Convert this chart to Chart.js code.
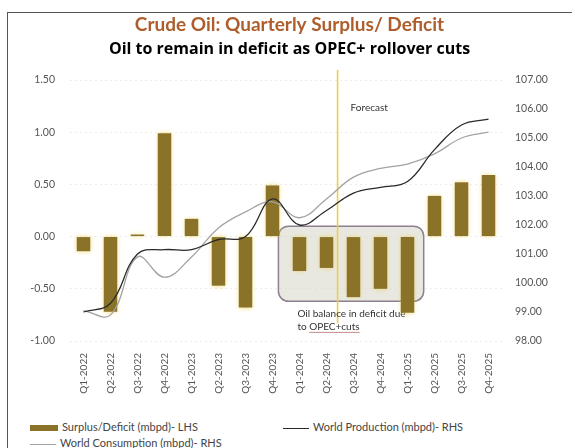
<!DOCTYPE html>
<html lang="en">
<head>
  <meta charset="UTF-8" />
  <title>Crude Oil: Quarterly Surplus/ Deficit</title>
  <style>
    body { margin: 0; background: #fff; font-family: Lato, 'Open Sans', sans-serif; }
    .frame {
      position: absolute; left: 7px; top: 12px;
      width: 570px; height: 450px;
      border: 1px solid #555; box-sizing: border-box;
    }
    .wrap { position: absolute; left: 0; top: 0; width: 563px; height: 395px; }
    .legend { position: absolute; font-size: 11px; color: #444; white-space: nowrap; line-height: 14px; }
    .legend i { display: inline-block; vertical-align: middle; margin-right: 4px; }
  </style>
</head>
<body>
  <div class="frame">
    <div class="wrap"><canvas id="oilChart"></canvas></div>
    <div id="legend"></div>
  </div>

  <script src="https://cdn.jsdelivr.net/npm/chart.js"></script>
  <script>
    // Quarterly data
    const quarters = ['Q1-2022', 'Q2-2022', 'Q3-2022', 'Q4-2022', 'Q1-2023', 'Q2-2023', 'Q3-2023', 'Q4-2023',
                      'Q1-2024', 'Q2-2024', 'Q3-2024', 'Q4-2024', 'Q1-2025', 'Q2-2025', 'Q3-2025', 'Q4-2025'];
    const surplus = [-0.14, -0.72, 0.02, 0.99, 0.17, -0.47, -0.68, 0.49, -0.33, -0.30, -0.58, -0.50, -0.73, 0.39, 0.52, 0.59];
    const production = [99.0, 99.3, 101.0, 101.15, 101.15, 101.5, 101.6, 102.9, 102.0, 102.5, 103.1, 103.3, 103.5, 104.6, 105.45, 105.65];
    const consumption = [99.05, 98.9, 100.9, 100.2, 100.9, 101.9, 102.45, 102.8, 102.25, 102.9, 103.65, 103.95, 104.1, 104.45, 105.0, 105.2];

    const forecastAfter = 'Q2-2024';
    const deficitFrom = 'Q1-2024', deficitTo = 'Q1-2025';

    Chart.defaults.font.family = "Lato, 'Open Sans', sans-serif";

    // soft yellow halo round the bars, like the original
    const barGlow = {
      id: 'barGlow',
      beforeDatasetDraw(chart, args) {
        if (args.index !== 0) return;
        const c = chart.ctx;
        c.save();
        c.shadowColor = 'rgba(240, 205, 70, 0.75)';
        c.shadowBlur = 5;
      },
      afterDatasetDraw(chart, args) {
        if (args.index === 0) chart.ctx.restore();
      }
    };

    // deficit box, forecast line and the notes
    const notes = {
      id: 'notes',
      beforeDatasetsDraw(chart) {
        const { ctx, scales: { x, y } } = chart;
        const step = x.getPixelForValue(1) - x.getPixelForValue(0);
        const left = x.getPixelForValue(quarters.indexOf(deficitFrom)) - 0.78 * step;
        const right = x.getPixelForValue(quarters.indexOf(deficitTo)) + 0.6 * step;
        const top = y.getPixelForValue(0.1), bottom = y.getPixelForValue(-0.62);
        ctx.save();
        ctx.beginPath();
        ctx.roundRect(left, top, right - left, bottom - top, 10);
        ctx.fillStyle = 'rgba(214, 214, 200, 0.55)';
        ctx.fill();
        ctx.lineWidth = 1.5;
        ctx.strokeStyle = '#8e8090';
        ctx.stroke();

        const fx = x.getPixelForValue(quarters.indexOf(forecastAfter)) + 0.41 * step;
        ctx.beginPath();
        ctx.moveTo(fx, chart.chartArea.top - 10);
        ctx.lineTo(fx, y.getPixelForValue(-0.83));
        ctx.lineWidth = 1.6;
        ctx.strokeStyle = '#efcd4c';
        ctx.stroke();

        ctx.fillStyle = '#333';
        ctx.font = "10px Lato, 'Open Sans', sans-serif";
        ctx.textBaseline = 'middle';
        ctx.fillText('Forecast', fx + 13, y.getPixelForValue(1.23));

        const tx = left + 19;
        ctx.fillText('Oil balance in deficit due', tx, y.getPixelForValue(-0.74));
        const ly = y.getPixelForValue(-0.86);
        ctx.fillText('to OPEC+cuts', tx, ly);
        const w0 = ctx.measureText('to ').width, w1 = ctx.measureText('OPEC+cuts').width;
        ctx.beginPath();
        ctx.moveTo(tx + w0, ly + 6);
        ctx.lineTo(tx + w0 + w1, ly + 6);
        ctx.lineWidth = 1;
        ctx.strokeStyle = '#c98a8a';
        ctx.stroke();
        ctx.restore();
      }
    };

    const ctx = document.getElementById('oilChart').getContext('2d');
    const chart = new Chart(ctx, {
      data: {
        labels: quarters,
        datasets: [
          {
            type: 'bar',
            label: 'Surplus/Deficit (mbpd)- LHS',
            data: surplus,
            yAxisID: 'y',
            backgroundColor: '#8a7328',
            barPercentage: 0.5,
            categoryPercentage: 1,
            order: 1
          },
          {
            type: 'line',
            label: 'World Production (mbpd)- RHS',
            data: production,
            yAxisID: 'y1',
            borderColor: '#2a2a2a',
            borderWidth: 1.3,
            pointRadius: 0,
            tension: 0.4,
            order: 0
          },
          {
            type: 'line',
            label: 'World Consumption (mbpd)- RHS',
            data: consumption,
            yAxisID: 'y1',
            borderColor: '#a3a3a3',
            borderWidth: 1.3,
            pointRadius: 0,
            tension: 0.4,
            order: 0
          }
        ]
      },
      options: {
        responsive: true,
        maintainAspectRatio: false,
        animation: false,
        layout: { padding: 0 },
        plugins: {
          legend: { display: false },
          tooltip: { enabled: false },
          title: {
            display: true,
            text: 'Crude Oil: Quarterly Surplus/ Deficit',
            color: '#ad5e2c',
            font: { size: 19, weight: 'bold' },
            padding: { top: 0, bottom: 3 }
          },
          subtitle: {
            display: true,
            text: 'Oil to remain in deficit as OPEC+ rollover cuts',
            color: '#000',
            font: { family: "'Open Sans', Lato, sans-serif", size: 16, weight: 'bold' },
            padding: { top: 1, bottom: 21 }
          }
        },
        scales: {
          x: {
            grid: { display: false },
            border: { display: false },
            ticks: { minRotation: 90, maxRotation: 90, autoSkip: false, padding: 4, color: '#555', font: { size: 10 } },
            afterFit(s) { s.height = 67; }
          },
          y: {
            position: 'left',
            min: -1, max: 1.5,
            ticks: { stepSize: 0.5, padding: 15, color: '#555', font: { size: 10.5 }, callback: v => v.toFixed(2) },
            grid: { color: 'rgba(0,0,0,0.07)', drawTicks: false },
            border: { display: false, dash: [2, 3] },
            afterFit(s) { s.width = 62; }
          },
          y1: {
            position: 'right',
            min: 98, max: 107,
            ticks: { stepSize: 1, padding: 13, color: '#555', font: { size: 10.5 }, callback: v => v.toFixed(2) },
            grid: { display: false, drawTicks: false },
            border: { display: false },
            afterFit(s) { s.width = 69; }
          }
        }
      },
      plugins: [barGlow, notes]
    });

    // legend laid out like the original (two rows, fixed columns)
    const legendPos = [[22, 407], [275, 407], [22, 423]];
    const legendBox = document.getElementById('legend');
    chart.data.datasets.forEach((ds, i) => {
      const el = document.createElement('div');
      el.className = 'legend';
      el.style.left = legendPos[i][0] + 'px';
      el.style.top = legendPos[i][1] + 'px';
      const sw = document.createElement('i');
      if (ds.type === 'bar') {
        sw.style.cssText = 'width:28px;height:6px;background:' + ds.backgroundColor;
      } else {
        sw.style.cssText = 'width:26px;height:0;border-top:1.3px solid ' + ds.borderColor;
      }
      el.appendChild(sw);
      el.appendChild(document.createTextNode(ds.label));
      legendBox.appendChild(el);
    });
  </script>
</body>
</html>
